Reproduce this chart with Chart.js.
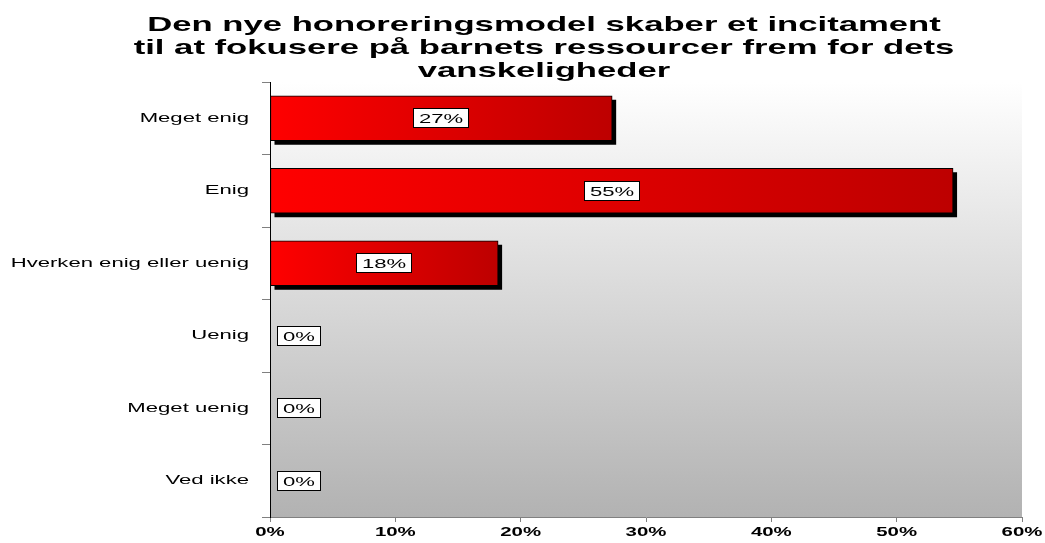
<!DOCTYPE html>
<html><head><meta charset="utf-8">
<script src="https://cdn.jsdelivr.net/npm/chart.js@4"></script>
<style>html,body{margin:0;padding:0;background:#fff;} #wrap{width:1045px;height:543px;position:relative;}</style>
</head><body><div id="wrap"><canvas id="c"></canvas></div>
<script>
const titleLines = ['Den nye honoreringsmodel skaber et incitament', 'til at fokusere på barnets ressourcer frem for dets', 'vanskeligheder'];
const categories = ['Meget enig', 'Enig', 'Hverken enig eller uenig', 'Uenig', 'Meget uenig', 'Ved ikke'];
const values = [27.3, 54.5, 18.2, 0, 0, 0];
const xTicks = [0, 10, 20, 30, 40, 50, 60];

// horizontal text stretch (the reference's lettering is widened)
const SX = 1.7;
const stretchPlugin = {
  id: 'stretch',
  beforeInit(chart) {
    const c = chart.ctx;
    const orig = c.fillText;
    c.fillText = function (t, x, y, mw) {
      this.save();
      this.translate(x, y);
      this.scale(SX, 1);
      if (mw !== undefined && mw !== null) orig.call(this, t, 0, 0, mw / SX);
      else orig.call(this, t, 0, 0);
      this.restore();
    };
  }
};

const bgPlugin = {
  id: 'bg',
  beforeDraw(chart) {
    const a = chart.chartArea, c = chart.ctx;
    c.save();
    const g = c.createLinearGradient(0, a.top, 0, a.bottom);
    g.addColorStop(0, '#ffffff');
    g.addColorStop(1, '#b2b2b2');
    c.fillStyle = g;
    c.fillRect(a.left, a.top, a.right - a.left, a.bottom - a.top);
    c.restore();
  }
};

const shadowPlugin = {
  id: 'shadow',
  beforeDatasetsDraw(chart) {
    const c = chart.ctx;
    const meta = chart.getDatasetMeta(0);
    c.save();
    c.fillStyle = '#000';
    meta.data.forEach((el, i) => {
      if (!(values[i] > 0)) return;
      const p = el.getProps(['x', 'y', 'base', 'height'], true);
      c.fillRect(p.base + 4, p.y - p.height / 2 + 4, p.x - p.base, p.height);
    });
    c.restore();
  }
};

const labelPlugin = {
  id: 'labels',
  afterDatasetsDraw(chart) {
    const c = chart.ctx;
    const meta = chart.getDatasetMeta(0);
    c.save();
    c.font = '13px "Liberation Sans", Arial, sans-serif';
    c.textBaseline = 'middle';
    c.textAlign = 'left';
    meta.data.forEach((el, i) => {
      const v = values[i];
      const txt = Math.round(v) + '%';
      const p = el.getProps(['x', 'y', 'base'], true);
      const tw = c.measureText(txt).width * SX;
      const bw = Math.round(tw + 12), bh = 20;
      let left;
      if (v > 0) left = Math.round((p.base + p.x) / 2 - bw / 2);
      else left = Math.round(p.base + 7);
      const top = Math.round(p.y - bh / 2);
      c.fillStyle = '#fff';
      c.fillRect(left, top, bw, bh);
      c.strokeStyle = '#000';
      c.lineWidth = 1;
      c.strokeRect(left + 0.5, top + 0.5, bw - 1, bh - 1);
      c.fillStyle = '#000';
      c.fillText(txt, left + 6, top + bh / 2 + 1);
    });
    c.restore();
  }
};

const titlePlugin = {
  id: 'ttl',
  afterDraw(chart) {
    const c = chart.ctx;
    c.save();
    c.font = 'bold 20.4px "Liberation Sans", Arial, sans-serif';
    c.fillStyle = '#000';
    c.textAlign = 'center';
    c.textBaseline = 'alphabetic';
    titleLines.forEach((t, i) => {
      c.fillText(t, 544, 31 + i * 23);
    });
    c.restore();
  }
};

function barGradient(ctx) {
  const chart = ctx.chart;
  if (!(ctx.raw > 0)) return 'rgba(0,0,0,0)';
  if (!chart.chartArea || !chart.scales.x) return '#ff0000';
  const xs = chart.scales.x;
  const x0 = xs.getPixelForValue(0);
  const x1 = xs.getPixelForValue(ctx.raw);
  const g = chart.ctx.createLinearGradient(x0, 0, x1, 0);
  g.addColorStop(0, '#ff0000');
  g.addColorStop(1, '#bd0000');
  return g;
}

new Chart(document.getElementById('c'), {
  type: 'bar',
  data: {
    labels: categories,
    datasets: [{
      data: values,
      backgroundColor: barGradient,
      borderColor: '#000',
      borderWidth: (ctx) => (ctx.raw > 0 ? 1 : 0),
      borderSkipped: false,
      barThickness: 45
    }]
  },
  options: {
    indexAxis: 'y',
    responsive: true,
    maintainAspectRatio: false,
    animation: false,
    layout: { padding: { top: 82, right: 23, left: 0, bottom: 0 } },
    plugins: { legend: { display: false }, tooltip: { enabled: false }, title: { display: false } },
    scales: {
      x: {
        min: 0, max: 60,
        afterBuildTicks(s) { s.ticks = xTicks.map(v => ({ value: v })); },
        grid: { drawOnChartArea: false, tickLength: 5, color: '#808080' },
        border: { color: '#808080', width: 1 },
        ticks: {
          color: '#000', padding: 3,
          font: { family: '"Liberation Sans", Arial, sans-serif', size: 12, weight: 'bold' },
          callback: (v) => v + '%'
        },
        afterFit(s) { s.height = 26; }
      },
      y: {
        grid: { drawOnChartArea: false, offset: true, tickLength: 8, color: '#808080' },
        border: { color: '#000', width: 1 },
        ticks: {
          color: '#000', padding: 13,
          font: { family: '"Liberation Sans", Arial, sans-serif', size: 13 }
        },
        afterFit(s) { s.width = 270; }
      }
    }
  },
  plugins: [stretchPlugin, bgPlugin, shadowPlugin, labelPlugin, titlePlugin]
});
</script>
</body></html>
